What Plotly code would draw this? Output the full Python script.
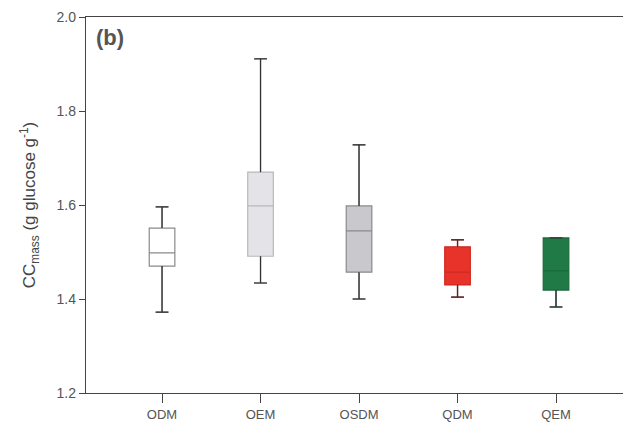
import plotly.graph_objects as go

categories = ["ODM", "OEM", "OSDM", "QDM", "QEM"]
lower_whisker = [1.372, 1.434, 1.400, 1.404, 1.383]
q1_vals = [1.470, 1.491, 1.457, 1.430, 1.419]
medians = [1.498, 1.598, 1.545, 1.457, 1.460]
q3_vals = [1.551, 1.670, 1.598, 1.511, 1.530]
upper_whisker = [1.596, 1.911, 1.728, 1.526, 1.530]
fills = ["#ffffff", "#e4e4e8", "#c9c9cd", "#e8332b", "#1f7a45"]
outlines = ["#8a8a8a", "#b8b8bc", "#8a8a8e", "#d02a22", "#1a6a3b"]

fig = go.Figure()
for i, c in enumerate(categories):
    fig.add_trace(go.Box(
        x=[c], q1=[q1_vals[i]], median=[medians[i]], q3=[q3_vals[i]],
        lowerfence=[lower_whisker[i]], upperfence=[upper_whisker[i]],
        fillcolor=fills[i], line=dict(color=outlines[i], width=1.2),
        width=0.26, whiskerwidth=0.5, showlegend=False, boxpoints=False,
        hoverinfo="skip",
    ))

# whisker lines and caps in dark gray
for i, c in enumerate(categories):
    for (y0, y1) in [(upper_whisker[i], q3_vals[i]), (q1_vals[i], lower_whisker[i])]:
        fig.add_shape(type="line", xref="x", yref="y", x0=i, x1=i, y0=y0, y1=y1,
                      line=dict(color="#333333", width=1.3))
    for yv in [upper_whisker[i], lower_whisker[i]]:
        fig.add_shape(type="line", xref="x", yref="y", x0=i - 0.065, x1=i + 0.065,
                      y0=yv, y1=yv, line=dict(color="#333333", width=1.3))

fig.update_layout(
    width=623, height=433,
    margin=dict(l=86, r=0, t=17, b=40),
    paper_bgcolor="white", plot_bgcolor="white",
    font=dict(family="Liberation Sans, Arial, sans-serif", color="#444444"),
    boxmode="overlay",
    xaxis=dict(
        type="category", categoryorder="array", categoryarray=categories,
        range=[-0.772, 4.68], showline=True, linecolor="#444444", linewidth=1.3,
        mirror=True, ticks="outside", ticklen=9, tickcolor="#444444",
        tickfont=dict(size=13, color="#555555"), showgrid=False, zeroline=False,
    ),
    yaxis=dict(
        range=[1.2, 2.0], tickvals=[1.2, 1.4, 1.6, 1.8, 2.0],
        ticktext=["1.2", "1.4", "1.6", "1.8", "2.0"],
        showline=True, linecolor="#444444", linewidth=1.3,
        ticks="outside", ticklen=6, tickcolor="#444444",
        tickfont=dict(size=14, color="#555555"), showgrid=False, zeroline=False,
        title=dict(text="CC<sub>mass</sub> (g glucose g<sup>-1</sup>)",
                   font=dict(size=17, color="#444444"), standoff=16),
    ),
    annotations=[dict(text="<b>(b)</b>", x=0.015, y=0.985, xref="paper", yref="paper",
                      xanchor="left", yanchor="top", showarrow=False,
                      font=dict(size=22, color="#555555"))],
)

fig.write_html("out.html")
